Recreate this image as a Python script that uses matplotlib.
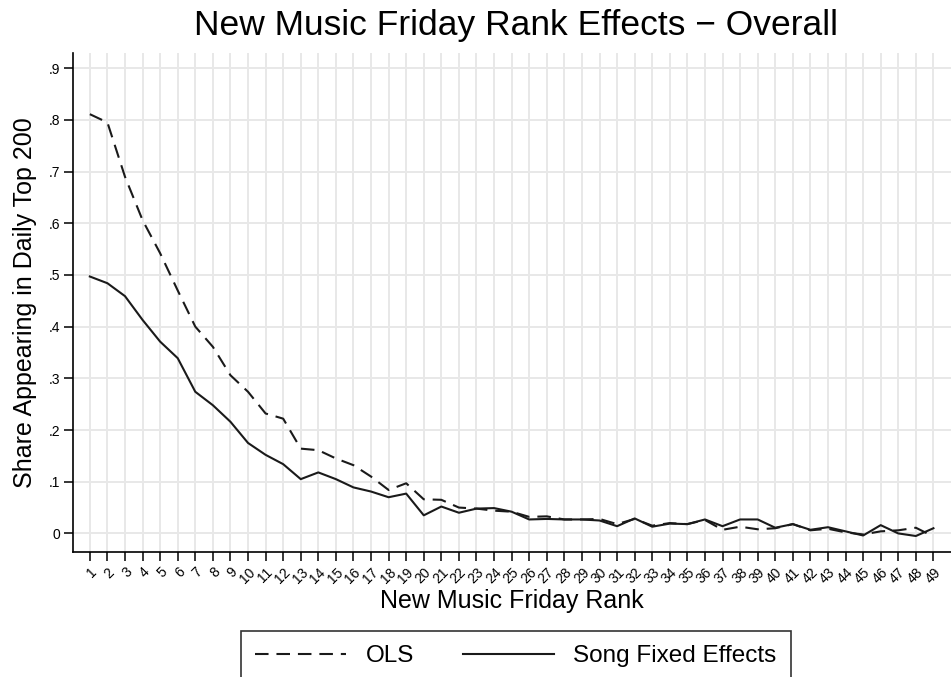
import matplotlib
matplotlib.use('Agg')
import matplotlib.pyplot as plt
import numpy as np

plt.rcParams['font.family'] = ['Liberation Sans', 'DejaVu Sans']

# values
ranks = np.arange(1, 50)
ols = [0.811, 0.795, 0.690, 0.606, 0.542, 0.470, 0.400, 0.361, 0.306, 0.274,
       0.232, 0.222, 0.164, 0.161, 0.145, 0.132, 0.110, 0.084, 0.097, 0.066,
       0.065, 0.050, 0.048, 0.044, 0.042, 0.032, 0.033, 0.027, 0.027, 0.028,
       0.018, 0.028, 0.015, 0.020, 0.018, 0.026, 0.007, 0.013, 0.008, 0.010,
       0.018, 0.006, 0.009, 0.002, -0.002, 0.004, 0.006, 0.011, -0.006]
song_fe = [0.497, 0.484, 0.459, 0.413, 0.371, 0.339, 0.274, 0.248, 0.216, 0.175,
           0.152, 0.134, 0.105, 0.118, 0.105, 0.089, 0.081, 0.070, 0.077, 0.035,
           0.052, 0.040, 0.048, 0.049, 0.042, 0.027, 0.028, 0.027, 0.027, 0.025,
           0.014, 0.029, 0.013, 0.019, 0.018, 0.027, 0.014, 0.027, 0.027, 0.011,
           0.018, 0.007, 0.012, 0.004, -0.004, 0.016, 0.000, -0.005, 0.010]
y_ticks = [0, .1, .2, .3, .4, .5, .6, .7, .8, .9]
y_labels = ['0', '.1', '.2', '.3', '.4', '.5', '.6', '.7', '.8', '.9']

fig = plt.figure(figsize=(9.51, 6.77), dpi=100)
ax = fig.add_axes([0.0771, 0.1846, 0.9229, 0.7376])

line_col = '#1a1a1a'
ax.plot(ranks, ols, color=line_col, lw=1.5, dashes=(6.5, 3.8), label='OLS')
ax.plot(ranks, song_fe, color=line_col, lw=1.5, label='Song Fixed Effects')

ax.set_xlim(0.06, 50.0)
ax.set_ylim(-0.036, 0.930)
ax.set_xticks(ranks)
ax.set_xticklabels([str(r) for r in ranks], rotation=45, ha='right', va='top',
                   rotation_mode='anchor', fontsize=10)
ax.set_yticks(y_ticks)
ax.set_yticklabels(y_labels, fontsize=10)

ax.grid(True, color='#e8e8e8', lw=1.4)
ax.set_axisbelow(True)
for s in ['top', 'right']:
    ax.spines[s].set_visible(False)
for s in ['left', 'bottom']:
    ax.spines[s].set_linewidth(1.2)
ax.tick_params(axis='both', length=6.5, width=1.1, direction='out', pad=3)

ax.set_xlabel('New Music Friday Rank', fontsize=18, labelpad=2)
ax.set_ylabel('Share Appearing in Daily Top 200', fontsize=18, labelpad=8)
fig.text(516 / 951, 1 - 26 / 677, 'New Music Friday Rank Effects \u2212 Overall',
         fontsize=25.5, ha='center', va='center')

leg = fig.legend(loc='upper left', bbox_to_anchor=(240.7 / 951, 1 - 630.7 / 677),
                 ncol=2, fontsize=17.5, frameon=True, fancybox=False,
                 handlelength=3.75, handletextpad=0.8, columnspacing=2.0,
                 borderpad=0.6, borderaxespad=0)
leg.get_frame().set_edgecolor('black')
leg.get_frame().set_linewidth(1.2)

fig.savefig('out.png', dpi=100)
